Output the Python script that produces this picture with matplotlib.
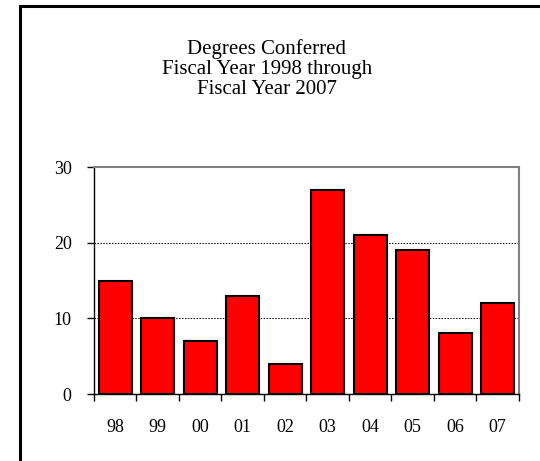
import matplotlib
matplotlib.use("Agg")
import matplotlib.pyplot as plt
from matplotlib.patches import Rectangle

years = ['98', '99', '00', '01', '02', '03', '04', '05', '06', '07']
degrees = [15, 10, 7, 13, 4, 27, 21, 19, 8, 12]

plt.rcParams['font.family'] = 'Liberation Serif'

fig = plt.figure(figsize=(5.4, 4.61), dpi=100)
ax = fig.add_axes([0.174, 0.1453, 0.787, 0.4924])

# outer chart frame, runs off the right and bottom of the image
fig.patches.append(Rectangle((20 / 540, -0.1), 1.2, 1.1 - 6 / 461,
                             transform=fig.transFigure, fill=False,
                             edgecolor='black', linewidth=2.2))

x = range(len(years))
ax.bar(x, degrees, width=0.78, color='#ff0000', edgecolor='black',
       linewidth=1.5, zorder=3)

ax.set_xlim(-0.5, len(years) - 0.5)
ax.set_ylim(0, 30)
ax.set_yticks([0, 10, 20, 30])
ax.set_xticks(list(x))
ax.set_xticklabels(years)
ax.tick_params(axis='x', length=0, pad=18, labelsize=13)
ax.tick_params(axis='y', length=5, width=1, pad=11, labelsize=13)
ax.set_xticks([i - 0.5 for i in range(len(years) + 1)], minor=True)
ax.tick_params(axis='x', which='minor', length=5, width=1)

ax.grid(axis='y', linestyle=(0, (1.5, 1.5)), color='black', linewidth=0.7, zorder=1)

ax.spines['top'].set_color('#808080')
ax.spines['right'].set_color('#808080')
ax.spines['top'].set_linewidth(1.5)
ax.spines['right'].set_linewidth(1.5)
ax.spines['left'].set_linewidth(1)
ax.spines['bottom'].set_linewidth(1)

fig.text(0.494, 0.85, 'Degrees Conferred\nFiscal Year 1998 through\nFiscal Year 2007',
         ha='center', va='center', fontsize=15, linespacing=1.08)

fig.savefig('out.png', dpi=100)
